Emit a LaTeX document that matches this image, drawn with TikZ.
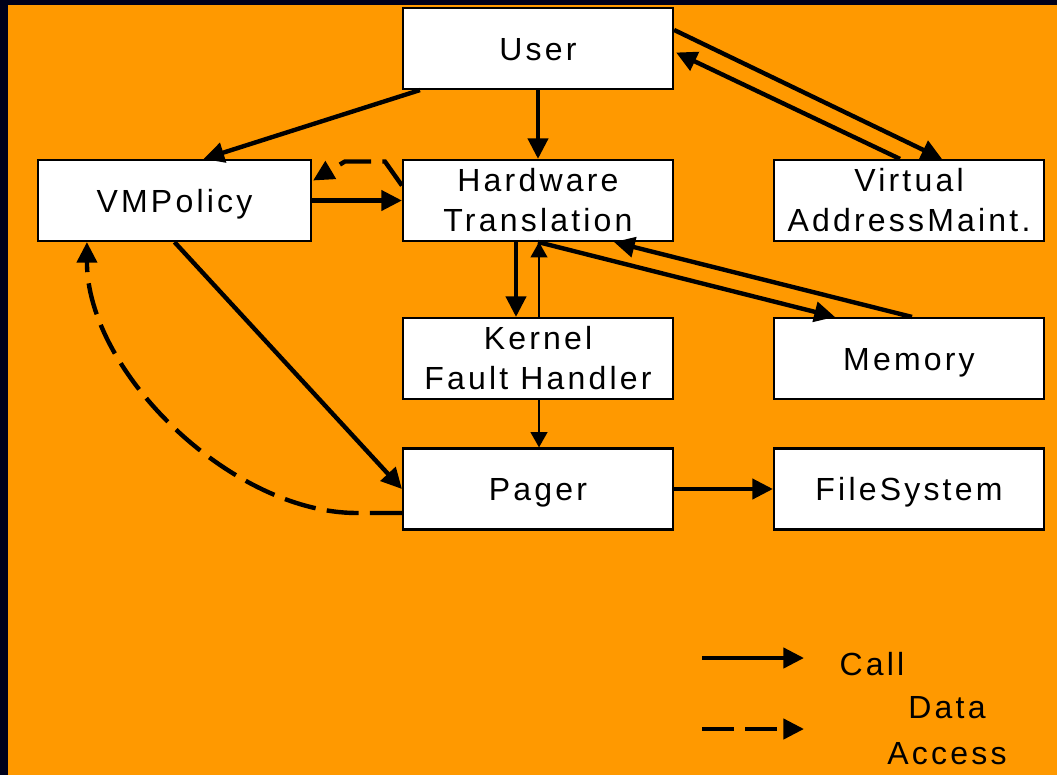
\documentclass[tikz,border=0pt]{standalone}
\usepackage{fontspec}
\setmainfont{Liberation Sans}[LetterSpace=10]
\usetikzlibrary{arrows.meta,calc}
\definecolor{slidebg}{RGB}{255,153,0}
\definecolor{slideedge}{RGB}{0,0,26}
\begin{document}
\begin{tikzpicture}[x=0.75pt,y=-0.75pt,
  box/.style={draw=black, line width=1.6pt, fill=white, inner sep=0pt,
    minimum width=202.5pt, minimum height=60.75pt, align=center,
    font=\fontsize{24pt}{30pt}\selectfont},
  oneline/.style={box, text height=17.3pt, text depth=0pt},
  legendtext/.style={inner sep=0pt, align=center},
  call/.style={line width=3.3pt, -{Triangle[length=15.5pt,width=15pt]}},
  thincall/.style={line width=1.6pt, -{Triangle[length=11.5pt,width=12.5pt]}},
  data/.style={call, dash pattern=on 24pt off 8.5pt}]
% slide background with dark edge
\fill[slideedge] (0,0) rectangle (1057,775);
\fill[slidebg] (8,5) rectangle (1057,775);
\useasboundingbox (0,0) rectangle (1057,775);

% components
\node[oneline] (user)  at (538,48.5)  {User};
\node[oneline, minimum width=204.75pt] (vmp) at (174.5,200.5) {VMPolicy};
\node[box]     (hw)    at (538,200.5) {Hardware\\Translation};
\node[box]     (vam)   at (909,200.5) {Virtual\\AddressMaint.};
\node[box]     (kfh)   at (538,358.5) {Kernel\\Fault Handler};
\node[oneline] (mem)   at (909,358.5) {Memory};
\node[oneline] (pager) at (538,489)   {Pager};
\node[oneline] (fs)    at (909,489)   {FileSystem};

% calls
\draw[call] ($(user.south west)+(18,0)$) -- ($(vmp.north)+(29,0)$);
\draw[call] (user.south) -- (hw.north);
\draw[call] ($(user.north east)+(0,23)$) -- ($(vam.north)+(33,0)$);
\draw[call] ($(vam.north)+(-9,0)$) -- ($(user.east)+(2,4)$);
\draw[call] (vmp.east) -- (hw.west);
\draw[call] ($(hw.south)+(-22,0)$) -- ($(kfh.north)+(-22,0)$);
\draw[thincall] ($(kfh.north)+(1,0)$) -- ($(hw.south)+(1,0)$);
\draw[call] (hw.south) -- ($(mem.north)+(-74,0)$);
\draw[call] ($(mem.north)+(3,0)$) -- ($(hw.south)+(76,0)$);
\draw[call] (vmp.south) -- (pager.west);
\draw[thincall] ($(kfh.south)+(1,0)$) -- ($(pager.north)+(1,0)$);
\draw[call] (pager.east) -- (fs.west);

% data accesses
\draw[data] ($(hw.west)+(0,-15)$) -- ++(-17,-24) -- ++(-40,0)
  -- ($(vmp.east)+(1,-20)$);
\draw[data] ($(pager.west)+(0,24)$) -- ++(-45,0)
  .. controls +(-125,0) and +(0,130) .. ($(vmp.south west)+(50,0)$);

% legend
\coordinate (callfrom) at (702,658);
\coordinate (callto)   at (804,658);
\coordinate (datafrom) at (702,729);
\coordinate (datato)   at (804,729);
\draw[call] (callfrom) -- (callto);
\draw[data] (datafrom) -- (datato);
\node[legendtext, font=\fontsize{24pt}{30pt}\selectfont, text height=17.3pt, text depth=0pt]
  (calltext) at (872,664) {Call};
\node[legendtext, font=\fontsize{24pt}{34pt}\selectfont]
  (datatext) at (947,730.5) {Data\\Access};
\end{tikzpicture}
\end{document}
